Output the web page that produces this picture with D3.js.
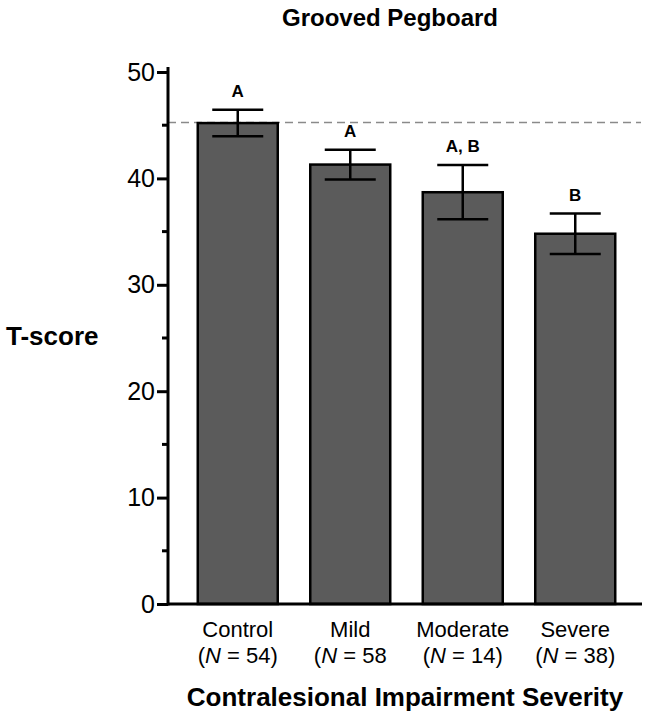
<!DOCTYPE html>
<html>
<head>
<meta charset="utf-8">
<script src="https://cdn.jsdelivr.net/npm/d3@7"></script>
<style>
  html, body { margin: 0; padding: 0; background: #fff; }
  svg { display: block; font-family: "Liberation Sans", Arial, Helvetica, sans-serif; }
</style>
</head>
<body>
<svg id="chart" width="648" height="726"></svg>
<script>
const categories = ["Control", "Mild", "Moderate", "Severe"];
const nValues = ["54", "58", "14", "38"];
const closeParen = [true, false, true, true];
const means = [45.2, 41.3, 38.7, 34.8];
const errors = [1.25, 1.4, 2.55, 1.9];
const groupLetters = ["A", "A", "A, B", "B"];
const referenceLine = 45.25;
const majorTicks = [0, 10, 20, 30, 40, 50];
const minorTicks = [5, 15, 25, 35, 45];

const svg = d3.select("#chart");

const axisX = 168;
const y = d3.scaleLinear().domain([0, 50]).range([604, 72]);
const x = d3.scaleBand().domain(categories)
  .range([181.5, 631.5]).paddingInner(0.289).paddingOuter(0.1445);

// reference dashed line
svg.append("line")
  .attr("x1", axisX).attr("x2", 641)
  .attr("y1", y(referenceLine)).attr("y2", y(referenceLine))
  .attr("stroke", "#8a8a8a").attr("stroke-width", 1.5)
  .attr("stroke-dasharray", "8,5");

// bars
svg.selectAll("rect.bar").data(categories).enter().append("rect")
  .attr("class", "bar")
  .attr("x", d => x(d))
  .attr("width", x.bandwidth())
  .attr("y", (d, i) => y(means[i]))
  .attr("height", (d, i) => y(0) - y(means[i]))
  .attr("fill", "#5b5b5b")
  .attr("stroke", "#000").attr("stroke-width", 2.5);

// error bars
const capHalf = 25.5;
const eb = svg.selectAll("g.err").data(categories).enter().append("g").attr("class", "err")
  .attr("stroke", "#000").attr("stroke-width", 2.5);
eb.append("line")
  .attr("x1", d => x(d) + x.bandwidth() / 2).attr("x2", d => x(d) + x.bandwidth() / 2)
  .attr("y1", (d, i) => y(means[i] + errors[i])).attr("y2", (d, i) => y(means[i] - errors[i]));
eb.append("line")
  .attr("x1", d => x(d) + x.bandwidth() / 2 - capHalf).attr("x2", d => x(d) + x.bandwidth() / 2 + capHalf)
  .attr("y1", (d, i) => y(means[i] + errors[i])).attr("y2", (d, i) => y(means[i] + errors[i]));
eb.append("line")
  .attr("x1", d => x(d) + x.bandwidth() / 2 - capHalf).attr("x2", d => x(d) + x.bandwidth() / 2 + capHalf)
  .attr("y1", (d, i) => y(means[i] - errors[i])).attr("y2", (d, i) => y(means[i] - errors[i]));

// group letters
svg.selectAll("text.letter").data(categories).enter().append("text")
  .attr("class", "letter")
  .attr("x", d => x(d) + x.bandwidth() / 2)
  .attr("y", (d, i) => y(means[i] + errors[i]) - 13)
  .attr("text-anchor", "middle")
  .attr("font-weight", "bold").attr("font-size", 17)
  .text((d, i) => groupLetters[i]);

// y axis
const yAxis = d3.axisLeft(y).tickValues(majorTicks).tickSize(11).tickPadding(2).tickFormat(d3.format("d"));
const gy = svg.append("g").attr("transform", `translate(${axisX},0)`).call(yAxis);
gy.select(".domain").remove();
gy.selectAll(".tick line").attr("stroke", "#000").attr("stroke-width", 3);
gy.selectAll(".tick text").attr("font-size", 25).attr("font-family", "Liberation Sans, Arial, sans-serif").attr("fill", "#000");
svg.append("line").attr("x1", axisX).attr("x2", axisX).attr("y1", 67).attr("y2", y(0) + 1.5)
  .attr("stroke", "#000").attr("stroke-width", 3);
svg.append("g").selectAll("line").data(minorTicks).enter().append("line")
  .attr("x1", axisX - 6).attr("x2", axisX)
  .attr("y1", d => y(d)).attr("y2", d => y(d))
  .attr("stroke", "#000").attr("stroke-width", 3);

// x baseline
svg.append("line").attr("x1", axisX).attr("x2", 642).attr("y1", y(0)).attr("y2", y(0))
  .attr("stroke", "#000").attr("stroke-width", 3);

// category labels
const cl = svg.selectAll("g.cat").data(categories).enter().append("g").attr("class", "cat");
cl.append("text")
  .attr("x", d => x(d) + x.bandwidth() / 2).attr("y", 637)
  .attr("text-anchor", "middle").attr("font-size", 22)
  .text(d => d);
const nl = cl.append("text")
  .attr("x", d => x(d) + x.bandwidth() / 2).attr("y", 663)
  .attr("text-anchor", "middle").attr("font-size", 22);
nl.append("tspan").text("(");
nl.append("tspan").attr("font-style", "italic").text("N");
nl.append("tspan").text((d, i) => " = " + nValues[i] + (closeParen[i] ? ")" : ""));

// titles
svg.append("text").attr("x", 390).attr("y", 26).attr("text-anchor", "middle")
  .attr("font-weight", "bold").attr("font-size", 24).text("Grooved Pegboard");
svg.append("text").attr("x", 6).attr("y", 345)
  .attr("font-weight", "bold").attr("font-size", 26).text("T-score");
svg.append("text").attr("x", 405).attr("y", 706).attr("text-anchor", "middle")
  .attr("font-weight", "bold").attr("font-size", 26).text("Contralesional Impairment Severity");
</script>
</body>
</html>
